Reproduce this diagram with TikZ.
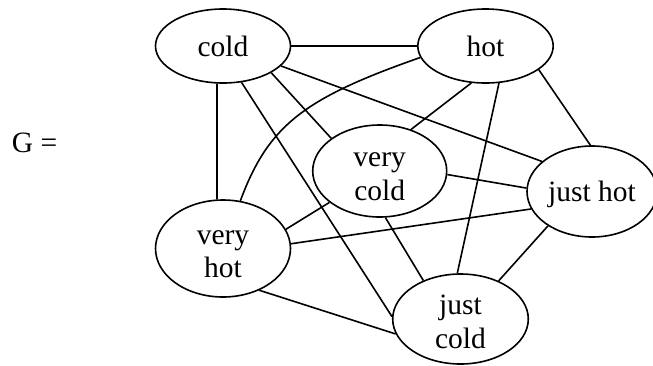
\documentclass[tikz,border=0pt]{standalone}
\usepackage{fontspec}
\setmainfont{Liberation Serif}
\usetikzlibrary{shapes.geometric}
\newcommand{\firstline}{\rule{0pt}{25pt}}
\begin{document}
\begin{tikzpicture}[x=1pt,y=-1pt,
  txt/.style={font=\fontsize{29.5pt}{33.4pt}\selectfont},
  vertex/.style={draw, ellipse, line width=1.6pt, inner sep=0pt,
    minimum width=135pt, minimum height=74pt, txt},
  tall/.style={minimum height=90pt, align=center},
  edge/.style={line width=1.6pt}]
\useasboundingbox (0,0) rectangle (653,365);
\node[txt, inner sep=0pt] (G) at (34.5,142.5) {G =};
\node[vertex] (cold) at (223,46) {cold};
\node[vertex, minimum width=135.4pt] (hot) at (485.5,46) {hot};
\node[vertex, tall, minimum width=134pt, minimum height=92pt] (vcold) at (379.7,171) {\firstline very\\cold};
\node[vertex, minimum width=130pt, minimum height=91pt, text depth=0pt] (jhot) at (592,191.5) {just hot};
\node[vertex, tall, minimum height=97pt] (vhot) at (223,248.5) {\firstline very\\hot};
\node[vertex, tall, minimum width=135.6pt] (jcold) at (460.5,319) {\firstline just\\cold};
\draw[edge] (cold.east) -- (hot.west);
\draw[edge] (cold.261) -- (vhot.97);
\draw[edge] (cold.331) -- (vcold.146);
\draw[edge] (cold.341) -- (jhot.149);
\draw[edge] (cold.297) -- (jcold.178);
\draw[edge] (hot.190) .. controls +(-116,40.6) and +(28,-75.7) .. (vhot.70);
\draw[edge] (hot.249) -- (vcold.53);
\draw[edge] (hot.336) -- (jhot.92);
\draw[edge] (hot.290) -- (jcold.94);
\draw[edge] (vcold.357) -- (jhot.177);
\draw[edge] (vhot.17) -- (vcold.212);
\draw[edge] (vcold.277) -- (jcold.134);
\draw[edge] (vhot.4) -- (jhot.196);
\draw[edge] (vhot.311) -- (jcold.193);
\draw[edge] (jhot.218) -- (jcold.45);
\end{tikzpicture}
\end{document}
